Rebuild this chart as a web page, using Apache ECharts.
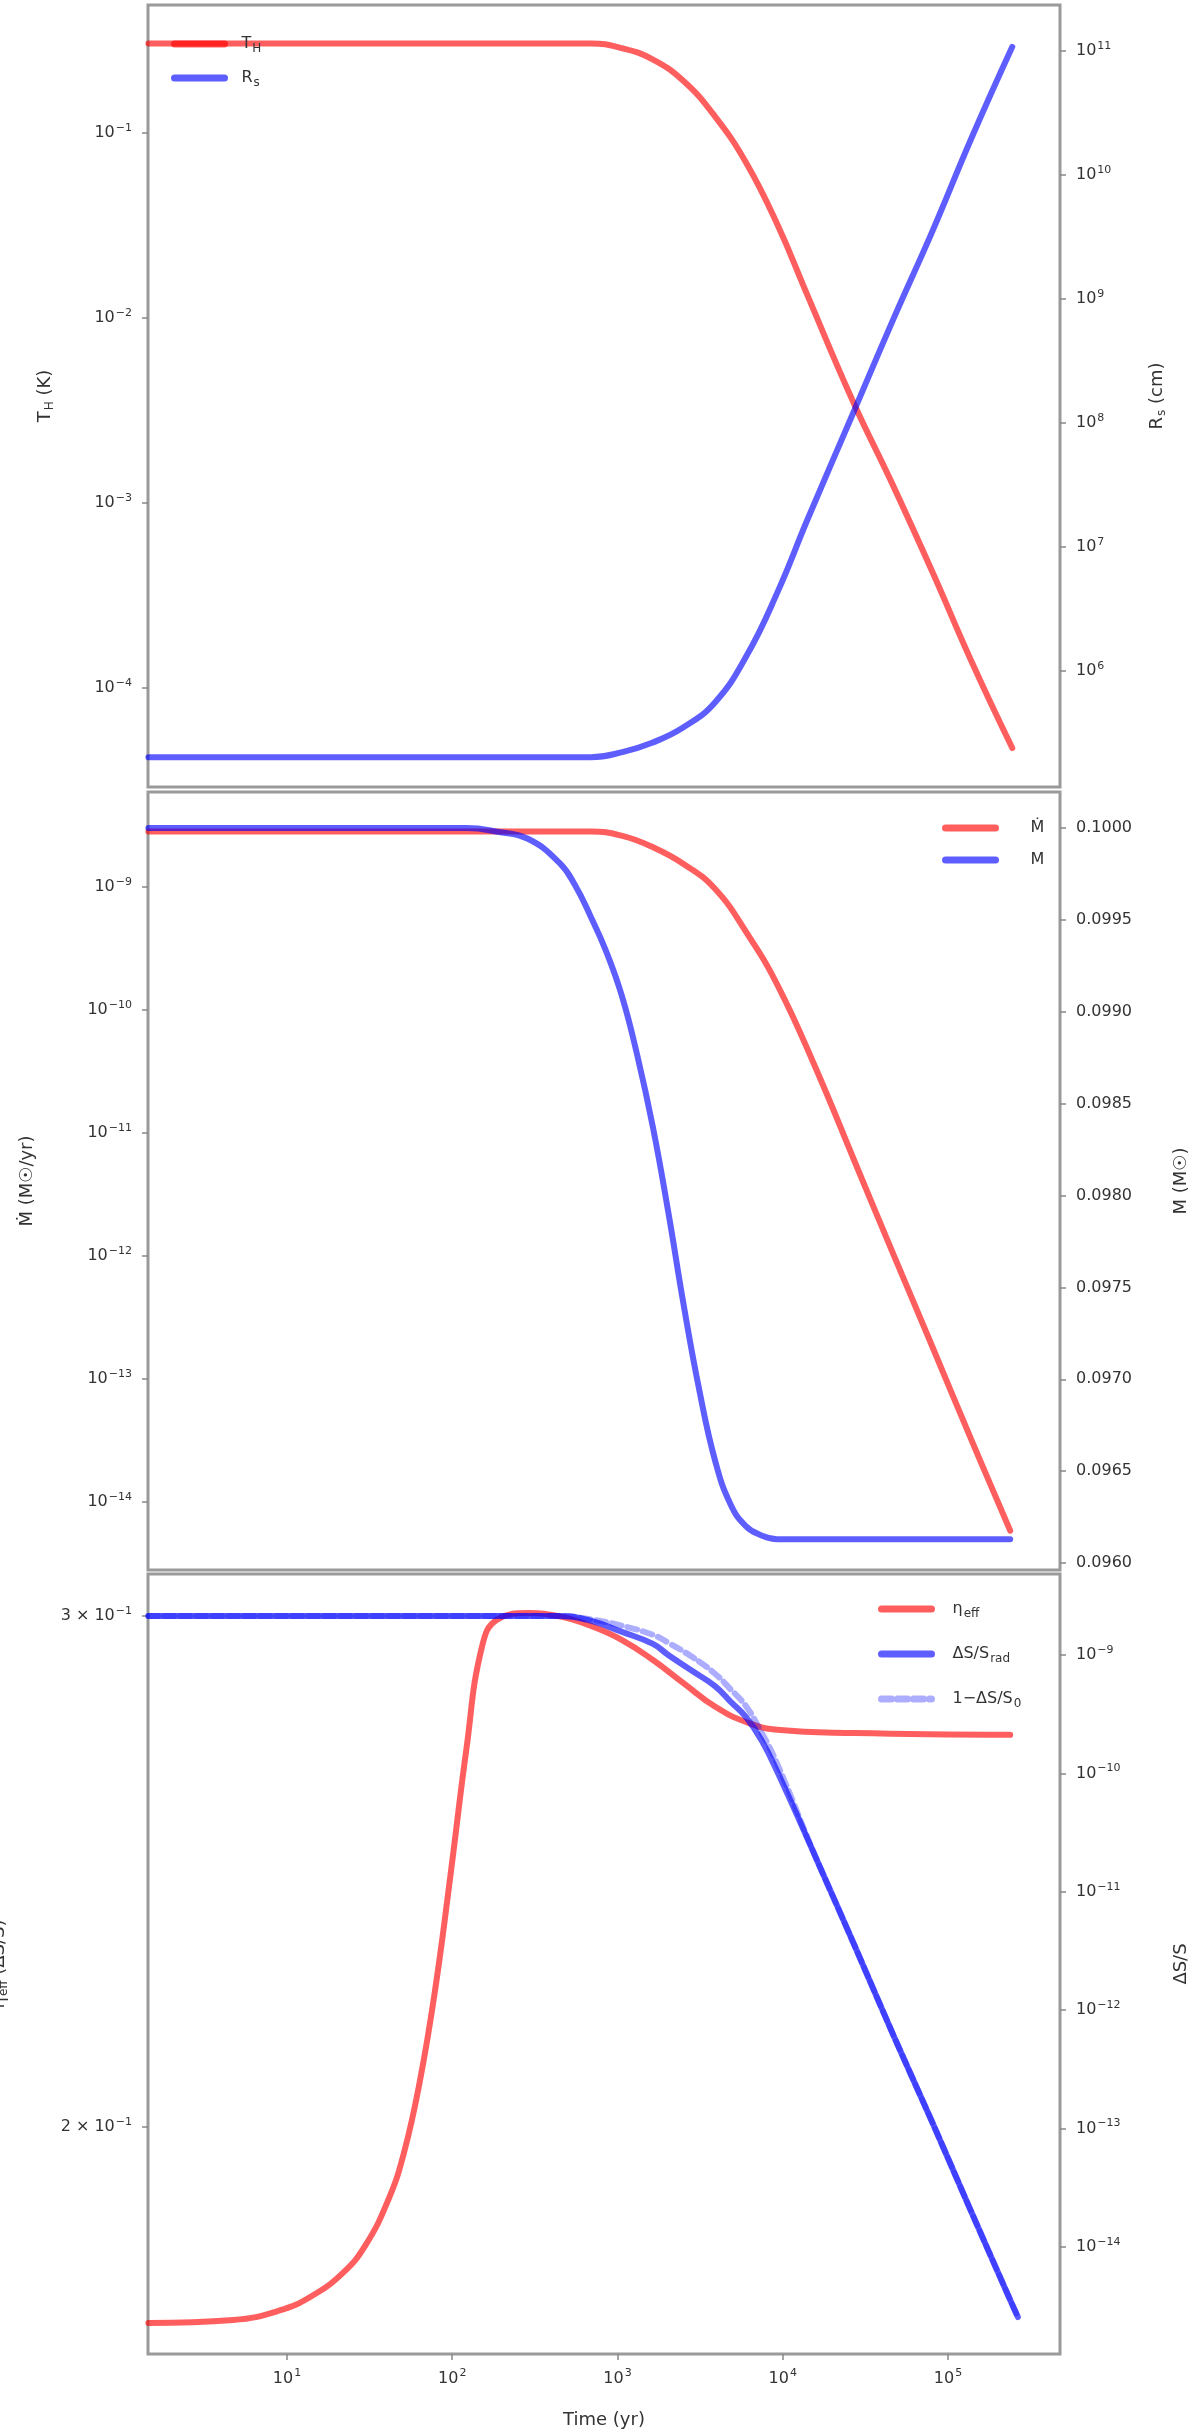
<!DOCTYPE html>
<html><head><meta charset="utf-8">
<script src="https://cdn.jsdelivr.net/npm/echarts@6/dist/echarts.min.js"></script>
<style>html,body{margin:0;padding:0;background:#fff}#c{width:1200px;height:2436px}</style>
</head><body><div id="c"></div>
<script>
// ---------- tick labels ----------
const xTickExponents = [1, 2, 3, 4, 5];                 // 10^1 ... 10^5 (time)
const topLeftTicks = [-1, -2, -3, -4];                   // 10^-1 ... 10^-4
const topRightTicks = [6, 7, 8, 9, 10, 11];              // 10^6 ... 10^11
const midLeftTicks = [-9, -10, -11, -12, -13, -14];      // 10^-9 ... 10^-14
const midRightTicks = [0.0960, 0.0965, 0.0970, 0.0975, 0.0980, 0.0985, 0.0990, 0.0995, 0.1000];
const botLeftTicks = [0.2, 0.3];                         // 2x10^-1, 3x10^-1
const botRightTicks = [-9, -10, -11, -12, -13, -14];

// ---------- top panel ----------
const topTime = [1.45, 10, 100, 692, 1070, 1620, 2510, 3890, 6030, 9330, 14100, 26300, 46800, 81300, 138000, 245000];
const topRed  = [0.305, 0.305, 0.305, 0.305, 0.287, 0.251, 0.191, 0.123, 0.0687, 0.0317, 0.0133, 0.00363, 0.00123, 0.000416, 0.000141, 0.0000474];
const topBlue = [2.02e5, 2.02e5, 2.02e5, 2.02e5, 2.22e5, 2.64e5, 3.52e5, 5.58e5, 1.32e6, 4.37e6, 1.66e7, 1.15e8, 6.92e8, 3.63e9, 1.95e10, 1.08e11];

// ---------- middle panel ----------
const midRedTime = [1.45, 10, 100, 692, 1070, 1620, 2510, 3890, 6030, 9330, 15800, 27200, 46900, 80600, 138000, 238000];
const midRed = [2.83e-9, 2.83e-9, 2.83e-9, 2.83e-9, 2.60e-9, 2.12e-9, 1.54e-9, 9.66e-10, 4.27e-10, 1.58e-10, 3.39e-11, 5.89e-12, 1.02e-12, 1.82e-13, 3.24e-14, 5.85e-15];
const midBlueTime = [1.45, 10, 122, 188, 289, 446, 553, 687, 853, 1060, 1320, 1640, 2030, 2520, 3130, 3890, 4830, 6000, 7450, 9250, 238000];
const midBlue = [0.1, 0.1, 0.1, 0.09998, 0.09994, 0.09981, 0.09969, 0.09952, 0.09933, 0.09909, 0.09876, 0.09837, 0.09791, 0.09740, 0.09694, 0.09656, 0.09632, 0.09620, 0.09615, 0.09613, 0.09613];

// ---------- bottom panel ----------
const botRedTime = [1.45, 4.72, 9.04, 13.9, 21.5, 29.7, 41.1, 51.1, 63.5, 78.9, 98.0, 122, 151, 188, 289, 446, 687, 1060, 1640, 2520, 3890, 6000, 9250, 27200, 238000];
const botRed = [0.1712, 0.1716, 0.1729, 0.1748, 0.1780, 0.1820, 0.1888, 0.1960, 0.2072, 0.2231, 0.2447, 0.2701, 0.2926, 0.2992, 0.3007, 0.2999, 0.2977, 0.2944, 0.2897, 0.2844, 0.2792, 0.2758, 0.2741, 0.2734, 0.2730];
const botBlueTime = [1.45, 446, 687, 1060, 1640, 2030, 2810, 3890, 4830, 6000, 7450, 9250, 15800, 27200, 46900, 80600, 138000, 238000, 265000];
const botBlue = [2.13e-9, 2.13e-9, 1.95e-9, 1.57e-9, 1.24e-9, 1.00e-9, 7.38e-10, 5.46e-10, 4.04e-10, 2.99e-10, 1.90e-10, 1.04e-10, 1.97e-11, 3.52e-12, 6.08e-13, 1.12e-13, 2.00e-14, 3.57e-15, 2.56e-15];
const botLightBlue = [2.13e-9, 2.13e-9, 2.00e-9, 1.77e-9, 1.48e-9, 1.27e-9, 9.70e-10, 6.95e-10, 5.14e-10, 3.69e-10, 2.21e-10, 1.21e-10, 1.97e-11, 3.52e-12, 6.08e-13, 1.12e-13, 2.00e-14, 3.57e-15, 2.56e-15];

// ---------- build ----------
const FONT = 'DejaVu Sans';
const TXT = '#333';
const RED = 'rgba(255,0,0,0.63)';
const BLUE = 'rgba(0,0,255,0.63)';
const LBLUE = 'rgba(0,0,255,0.32)';
const L10 = Math.log10;

function pts(times, vals, logY) {
  return times.map((t, i) => [L10(t), logY ? L10(vals[i]) : vals[i]]);
}
const rich = {
  sup: {fontSize: 11, fontFamily: FONT, color: TXT, padding: [0, 0, 10, 1]},
  sub: {fontSize: 12, fontFamily: FONT, color: TXT, padding: [10, 0, 0, 1]}
};
function p10(v) { const e = Math.round(v); return '10{sup|' + (e < 0 ? '\u2212' : '') + Math.abs(e) + '}'; }

const grids = [
  {left: 148, right: 140, top: 5, height: 782},
  {left: 148, right: 140, top: 792, height: 778},
  {left: 148, right: 140, top: 1574, height: 780}
].map(g => Object.assign(g, {show: true, borderColor: '#9a9a9a', borderWidth: 3, backgroundColor: 'transparent',
                             containLabel: false, outerBoundsMode: 'none'}));

function xAxis(i, showLabels) {
  return {
    type: 'value', gridIndex: i, min: 0.159, max: 5.678,
    axisLine: {show: false}, splitLine: {show: false},
    axisTick: {show: showLabels, customValues: xTickExponents, length: 6, lineStyle: {color: '#888', width: 1.5}},
    axisLabel: {show: showLabels, customValues: xTickExponents, formatter: p10, fontSize: 16, fontFamily: FONT, color: TXT, margin: 14, rich: rich},
    name: showLabels ? 'Time (yr)' : '', nameLocation: 'middle', nameGap: 57,
    nameTextStyle: {fontSize: 18, fontFamily: FONT, color: TXT}
  };
}
function yAxis(i, pos, min, max, ticks, fmt, name, gap) {
  return {
    type: 'value', gridIndex: i, position: pos, min: min, max: max,
    axisLine: {show: false}, splitLine: {show: false},
    axisTick: {show: true, customValues: ticks, length: 6, lineStyle: {color: '#888', width: 1.5}},
    axisLabel: {customValues: ticks, formatter: fmt, fontSize: 16, fontFamily: FONT, color: TXT, margin: 16, rich: rich},
    name: name, nameLocation: 'middle', nameGap: gap,
    nameTextStyle: {fontSize: 18, fontFamily: FONT, color: TXT, rich: rich}
  };
}
function line(name, xi, yi, data, color, dashed) {
  return {
    name: name, type: 'line', xAxisIndex: xi, yAxisIndex: yi, data: data,
    symbol: 'none', smooth: 0.45, clip: true,
    lineStyle: {color: color, width: 6, type: dashed ? [10, 6] : 'solid', cap: 'round'},
    itemStyle: {color: color}
  };
}
const legendNames = {
  'topRed': 'T{sub|H}', 'topBlue': 'R{sub|s}',
  'midRed': '\u1E40', 'midBlue': 'M',
  'botRed': '\u03B7{sub|eff}', 'botBlue': '\u0394S/S{sub|rad}', 'botLBlue': '1\u2212\u0394S/S{sub|0}'
};
function legend(names, left, top, gap, pad) {
  return {
    data: names, left: left, top: top, orient: 'vertical', itemWidth: 50, itemHeight: 20, itemGap: gap,
    selectedMode: false, backgroundColor: 'transparent',
    itemStyle: {opacity: 0},
    lineStyle: {width: 7},
    formatter: n => legendNames[n],
    textStyle: {fontSize: 16, fontFamily: FONT, color: TXT, rich: rich, padding: [0, 0, 0, pad]}
  };
}

const option = {
  animation: false,
  backgroundColor: '#fff',
  grid: grids,
  xAxis: [xAxis(0, false), xAxis(1, false), xAxis(2, true)],
  yAxis: [
    yAxis(0, 'left', -4.535, -0.308, topLeftTicks, p10, 'T{sub|H} (K)', 92),
    yAxis(0, 'right', 5.065, 11.371, topRightTicks, p10, 'R{sub|s} (cm)', 86),
    yAxis(1, 'left', -14.553, -8.228, midLeftTicks, p10, '\u1E40 (M\u2609/yr)', 112),
    yAxis(1, 'right', 0.095962, 0.100196, midRightTicks, v => v.toFixed(4), 'M (M\u2609)', 112),
    yAxis(2, 'left', -0.7772, -0.5084, botLeftTicks.map(L10),
          v => Math.round(Math.pow(10, v) * 10) + ' \u00D7 10{sup|\u22121}', '\u03B7{sub|eff} (\u0394S/S)', 138),
    yAxis(2, 'right', -14.904, -8.316, botRightTicks, p10, '\u0394S/S', 112)
  ],
  legend: [
    legend(['topRed', 'topBlue'], 166, 31, 15, 12),
    legend(['midRed', 'midBlue'], 937, 815, 16, 30),
    legend(['botRed', 'botBlue', 'botLBlue'], 873, 1596, 26, 16)
  ],
  series: [
    line('topRed', 0, 0, pts(topTime, topRed, true), RED),
    line('topBlue', 0, 1, pts(topTime, topBlue, true), BLUE),
    line('midRed', 1, 2, pts(midRedTime, midRed, true), RED),
    line('midBlue', 1, 3, pts(midBlueTime, midBlue, false), BLUE),
    line('botRed', 2, 4, pts(botRedTime, botRed, true), RED),
    line('botBlue', 2, 5, pts(botBlueTime, botBlue, true), BLUE),
    line('botLBlue', 2, 5, pts(botBlueTime, botLightBlue, true), LBLUE, true)
  ]
};
const chart = echarts.init(document.getElementById('c'), null, {renderer: 'canvas', width: 1200, height: 2436});
chart.setOption(option);
</script>
</body></html>
